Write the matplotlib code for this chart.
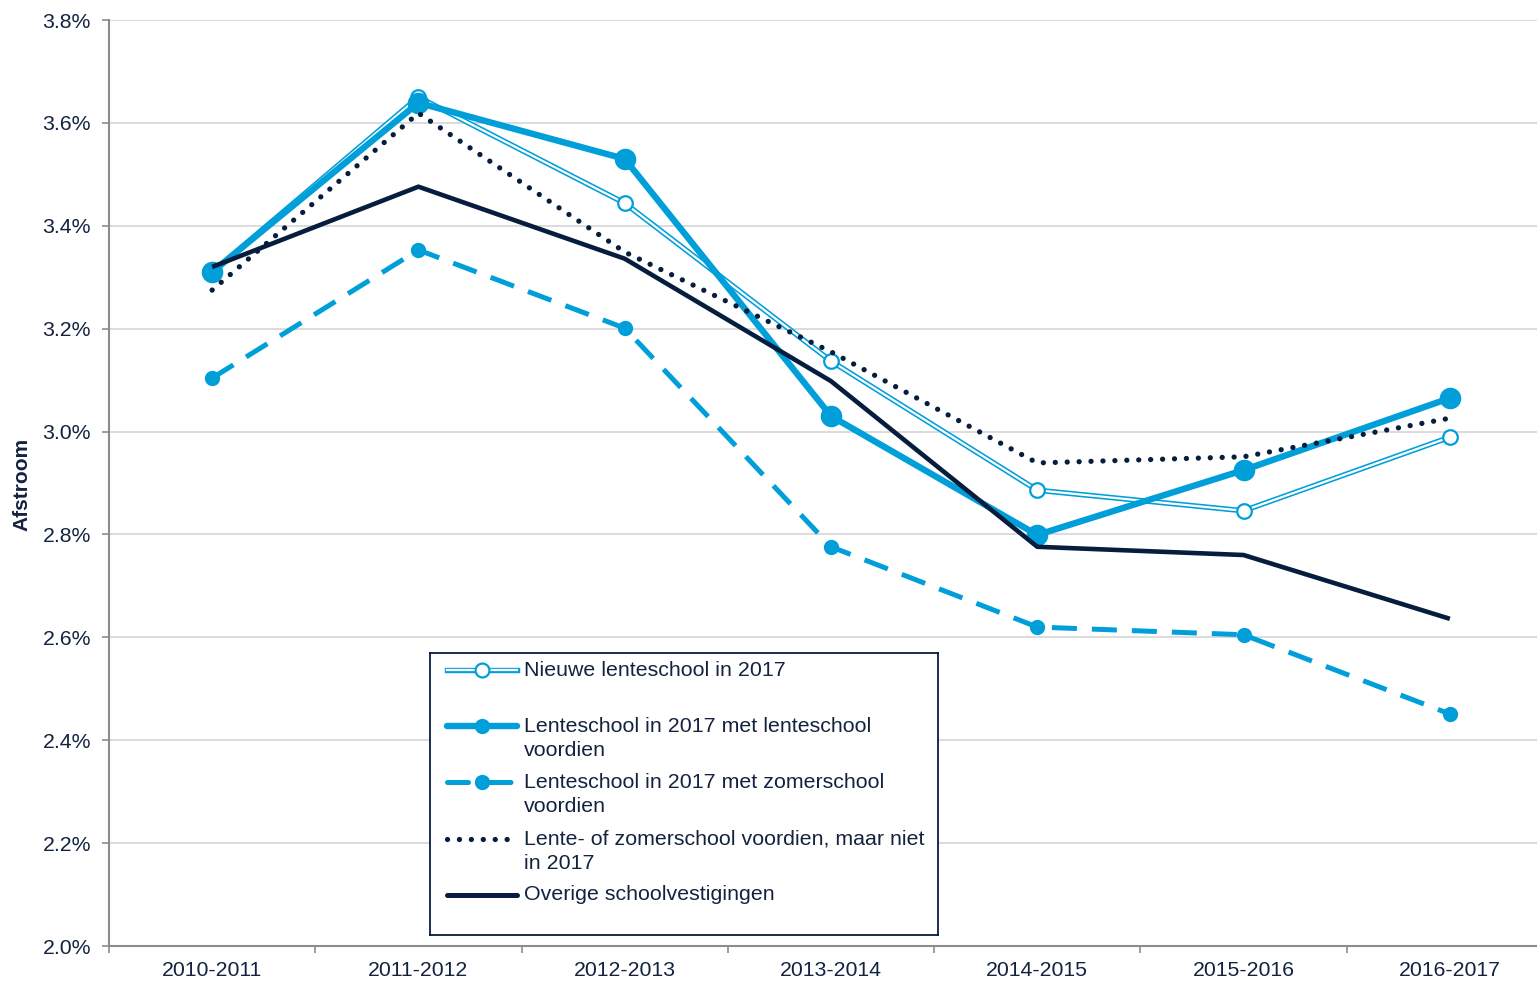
import matplotlib
matplotlib.use("Agg")
import matplotlib.pyplot as plt
from matplotlib.ticker import FuncFormatter
import numpy as np

plt.rcParams['font.family'] = ['Liberation Sans', 'DejaVu Sans']

BLUE = '#009FDA'
NAVY = '#061D3E'
TEXT = '#13233F'
GRID = '#D9D9D9'
AXIS = '#8C8C8C'

years = ["2010-2011", "2011-2012", "2012-2013", "2013-2014",
         "2014-2015", "2015-2016", "2016-2017"]

nieuwe_lenteschool = [3.310, 3.650, 3.444, 3.137, 2.886, 2.846, 2.989]
lente_met_lente = [3.310, 3.639, 3.530, 3.030, 2.799, 2.925, 3.065]
lente_met_zomer = [3.104, 3.353, 3.201, 2.776, 2.620, 2.605, 2.451]
voordien_niet_2017 = [3.275, 3.619, 3.349, 3.155, 2.939, 2.951, 3.026]
overige = [3.320, 3.476, 3.336, 3.098, 2.776, 2.760, 2.636]

legend_labels = [
    ["Nieuwe lenteschool in 2017"],
    ["Lenteschool in 2017 met lenteschool", "voordien"],
    ["Lenteschool in 2017 met zomerschool", "voordien"],
    ["Lente- of zomerschool voordien, maar niet", "in 2017"],
    ["Overige schoolvestigingen"],
]

# line styles per series (also used for the legend samples)
styles = {
    'lente': dict(color=BLUE, lw=4.6, marker='o', ms=14.5, solid_capstyle='round'),
    'zomer': dict(color=BLUE, lw=3.6, dashes=(5, 3), marker='o', ms=10),
    'dotted': dict(color=NAVY, lw=3.8, dashes=(0.01, 2.25), dash_capstyle='round'),
    'overige': dict(color=NAVY, lw=3.3, solid_capstyle='butt'),
}


def draw_double(ax, x, y, with_marker=True):
    ax.plot(x, y, color=BLUE, lw=3.9, solid_joinstyle='miter')
    ax.plot(x, y, color='white', lw=1.6, solid_joinstyle='miter')
    if with_marker:
        ax.plot(x, y, ls='none', marker='o', ms=10.5, mfc='white', mec=BLUE, mew=1.6)


fig = plt.figure(figsize=(15.37, 9.84), dpi=100)
ax = fig.add_axes([109 / 1537, 38 / 984, 1444 / 1537, 926 / 984])

x = np.arange(len(years))
draw_double(ax, x, nieuwe_lenteschool)
ax.plot(x, lente_met_lente, **styles['lente'])
ax.plot(x, lente_met_zomer, **styles['zomer'])
ax.plot(x, voordien_niet_2017, **styles['dotted'])
ax.plot(x, overige, **styles['overige'])

ax.set_xlim(-0.5, 6.5)
ax.set_ylim(2.0, 3.8)
ax.set_yticks(np.arange(2.0, 3.81, 0.2))
ax.yaxis.set_major_formatter(FuncFormatter(lambda v, p: f"{v:.1f}%"))
ax.set_xticks(x)
ax.set_xticklabels(years)
ax.set_xticks(np.arange(-0.5, 7, 1), minor=True)
ax.yaxis.grid(True, color=GRID, lw=1.3)
ax.set_axisbelow(True)

for s in ['top', 'right']:
    ax.spines[s].set_visible(False)
for s in ['left', 'bottom']:
    ax.spines[s].set_color(AXIS)
    ax.spines[s].set_linewidth(1.5)

ax.tick_params(axis='y', length=5, width=1.2, color=AXIS, pad=8,
               labelsize=15.3, labelcolor=TEXT)
ax.tick_params(axis='x', which='major', length=0, pad=11,
               labelsize=15.3, labelcolor=TEXT)
ax.tick_params(axis='x', which='minor', length=5, width=1.2, color=AXIS)

fig.text(22 / 1537, 1 - 484 / 984, 'Afstroom', rotation=90, ha='center',
         va='center', fontsize=15, fontweight='bold', color=TEXT,
         family=['Liberation Sans Narrow', 'Liberation Sans'])

# legend box drawn by hand so the sample sits on the first text line
lax = fig.add_axes([430 / 1537, 49 / 984, 508 / 1537, 282 / 984])
lax.set_xlim(0, 508)
lax.set_ylim(282, 0)
lax.set_xticks([])
lax.set_yticks([])
for s in lax.spines.values():
    s.set_color(NAVY)
    s.set_linewidth(1.3)

rows = [17, 73, 129, 186, 242]
sx = [17, 52, 87]
draw_double(lax, [sx[0], sx[2]], [rows[0], rows[0]], with_marker=False)
lax.plot([sx[1]], [rows[0]], ls='none', marker='o', ms=10, mfc='white', mec=BLUE, mew=1.6)
lax.plot([sx[0], sx[2]], [rows[1]] * 2, color=BLUE, lw=4.6, solid_capstyle='round')
lax.plot([sx[1]], [rows[1]], ls='none', marker='o', ms=10, color=BLUE)
lax.plot([sx[0], 83], [rows[2]] * 2, color=BLUE, lw=3.6, dashes=(4.2, 4.3),
         dash_capstyle='round')
lax.plot([sx[1]], [rows[2]], ls='none', marker='o', ms=10, color=BLUE)
lax.plot([sx[0], sx[2]], [rows[3]] * 2, **styles['dotted'])
lax.plot([sx[0], sx[2]], [rows[4]] * 2, color=NAVY, lw=3.6, solid_capstyle='round')

for r, lines in zip(rows, legend_labels):
    for i, t in enumerate(lines):
        lax.text(94, r + i * 24.5, t, ha='left', va='center', fontsize=15.4, color=TEXT)

fig.savefig('out.png', dpi=100)
